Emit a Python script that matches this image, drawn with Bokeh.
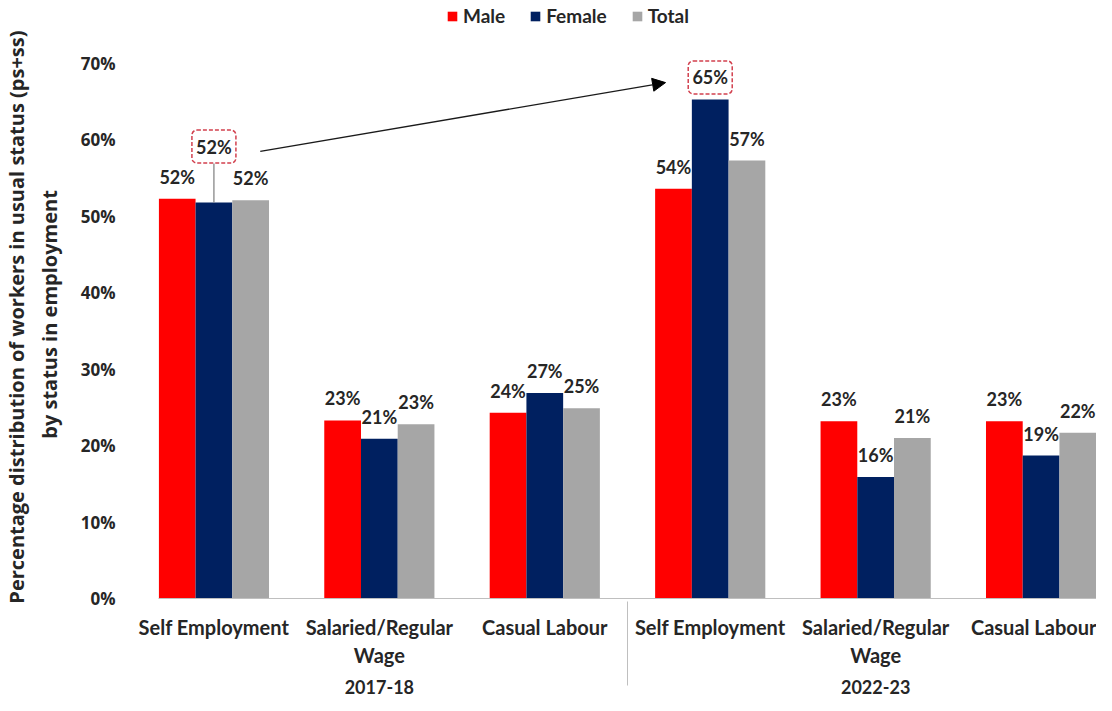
from bokeh.plotting import figure
from bokeh.models import (FactorRange, Range1d, ColumnDataSource, LabelSet, Arrow, NormalHead,
                          Legend, LegendItem, FixedTicker, PrintfTickFormatter)
from bokeh.core.properties import value
from bokeh.transform import dodge
from bokeh.embed import file_html
from bokeh.resources import INLINE

# ---- data ----
years = ["2017-18", "2022-23"]
categories = ["Self Employment", "Salaried/Regular\nWage", "Casual Labour"]
series_names = ["Male", "Female", "Total"]
male = [52.3, 23.3, 24.3, 53.6, 23.2, 23.2]
female = [51.8, 20.9, 26.9, 65.3, 15.9, 18.7]
total = [52.1, 22.8, 24.9, 57.3, 21.0, 21.7]
y_ticks = [0, 10, 20, 30, 40, 50, 60, 70]
colors = ["#FF0000", "#002060", "#A6A6A6"]
y_title = ["Percentage distribution of workers in usual status (ps+ss)", "by status in employment"]

FONT = "Lato"
AXFONT = "Open Sans"
TXT = "#262626"

factors = [(y, c) for y in years for c in categories]
series = [male, female, total]
offsets = [-0.222, 0.0, 0.222]

# layout: 70% sits 59px below the frame top (room for the legend), 10% = 76.4px
PX_PER_UNIT = 535 / 70.0
TOP_ROOM_PX = 59
y_end = 70 + TOP_ROOM_PX / PX_PER_UNIT

p = figure(
    x_range=FactorRange(*factors, group_padding=0, factor_padding=0,
                        range_padding=-0.165, range_padding_units="absolute"),
    y_range=Range1d(0, y_end),
    width=1096, height=703,
    output_backend="svg", toolbar_location=None,
    min_border_left=139, min_border_right=0, min_border_bottom=105, min_border_top=4,
)
p.outline_line_color = None
p.xgrid.visible = False
p.ygrid.visible = False

renderers = []
for name, vals, col, off in zip(series_names, series, colors, offsets):
    src = ColumnDataSource(dict(x=factors, top=vals))
    r = p.vbar(x=dodge("x", off, range=p.x_range), top="top", width=0.222, source=src,
               fill_color=col, line_color=None)
    renderers.append(r)

boxed_idx = [0, 3]
lift_px = [34, 0]

# callout boxes (drawn under the labels)
box_src = ColumnDataSource(dict(x=[factors[i] for i in boxed_idx],
                                y=[female[i] + (15 + lift_px[k] + 7) / PX_PER_UNIT
                                   for k, i in enumerate(boxed_idx)]))
p.rect(x=dodge("x", 0.0, range=p.x_range), y="y", width=44, height=33,
       width_units="screen", height_units="screen", source=box_src,
       fill_color="white", line_color="#D2404E", line_dash="4 2", line_width=1.5,
       border_radius=5)

# data labels
for si, (vals, off) in enumerate(zip(series, offsets)):
    yoff = [15 + (lift_px[boxed_idx.index(i)] if (si == 1 and i in boxed_idx) else 0)
            for i in range(len(factors))]
    src = ColumnDataSource(dict(x=factors, y=vals, yo=yoff, lbl=[f"{round(v)}%" for v in vals]))
    p.add_layout(LabelSet(x=dodge("x", off, range=p.x_range), y="y", text="lbl", source=src,
                          y_offset="yo", text_align="center", text_baseline="alphabetic",
                          text_font=value(FONT), text_font_style="bold", text_font_size="18px",
                          text_color=TXT))

# leader line from 2017 callout to bar top
lead_src = ColumnDataSource(dict(x=[factors[0]], y0=[female[0]],
                                 y1=[female[0] + 39 / PX_PER_UNIT]))
p.segment(x0=dodge("x", 0.0, range=p.x_range), y0="y0", x1=dodge("x", 0.0, range=p.x_range),
          y1="y1", source=lead_src, line_color="#7F7F7F", line_width=1.2)

# arrow from 2017 callout to 2022 callout
arr_src = ColumnDataSource(dict(xs=[factors[0]], xe=[factors[3]],
                                ys=[female[0] + 6.7], ye=[female[3] + 2.2]))
p.add_layout(Arrow(x_start=dodge("xs", 0.28, range=p.x_range), y_start="ys",
                   x_end=dodge("xe", -0.27, range=p.x_range), y_end="ye", source=arr_src,
                   line_color="#1a1a1a", line_width=1.3,
                   end=NormalHead(size=13, fill_color="black", line_color="black")))

# axes
p.yaxis.ticker = FixedTicker(ticks=y_ticks)
p.yaxis.formatter = PrintfTickFormatter(format="%d%%")
p.yaxis.axis_line_color = None
p.yaxis.major_tick_line_color = None
p.yaxis.minor_tick_line_color = None
p.yaxis.major_label_standoff = 37
p.yaxis.major_label_text_font = AXFONT
p.yaxis.major_label_text_font_style = "bold"
p.yaxis.major_label_text_font_size = "17px"
p.yaxis.major_label_text_color = TXT
# a few trailing no-break spaces nudge the title lines down a little
p.yaxis.axis_label = y_title[0] + "\u00a0" * 6 + "\n" + y_title[1] + "\u00a0" * 5
p.yaxis.axis_label_text_font = AXFONT
p.yaxis.axis_label_text_font_style = "bold"
p.yaxis.axis_label_text_font_size = "20px"
p.yaxis.axis_label_text_color = TXT
p.yaxis.axis_label_standoff = 15

p.xaxis.axis_line_color = "#BFBFBF"
p.xaxis.major_tick_line_color = None
p.xaxis.minor_tick_line_color = None
p.xaxis.major_label_orientation = "horizontal"
p.xaxis.major_label_standoff = 10
p.xaxis.major_label_text_font = FONT
p.xaxis.major_label_text_font_style = "bold"
p.xaxis.major_label_text_font_size = "20px"
p.xaxis.major_label_text_color = TXT
p.xaxis.group_text_font = FONT
p.xaxis.group_text_font_style = "bold"
p.xaxis.group_text_font_size = "18px"
p.xaxis.group_text_color = TXT
p.xaxis.separator_line_color = "#BFBFBF"
p.xaxis.separator_line_width = 1

# legend sits in the head room above 70%
frame_px = 70 * PX_PER_UNIT + TOP_ROOM_PX
legend = Legend(items=[LegendItem(label=n, renderers=[r]) for n, r in zip(series_names, renderers)],
                orientation="horizontal", location=(288, int(frame_px - 23)), border_line_color=None,
                background_fill_alpha=0, label_text_font=FONT, label_text_font_style="bold",
                label_text_font_size="19px", label_text_color=TXT,
                glyph_width=12, glyph_height=12, spacing=24, label_standoff=5, padding=1, margin=0)
p.add_layout(legend, "center")

open("out.html", "w").write(file_html(p, INLINE))
